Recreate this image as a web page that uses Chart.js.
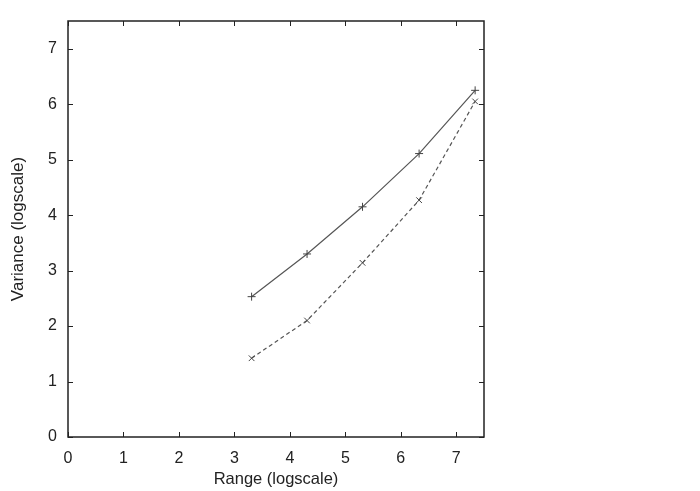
<!DOCTYPE html>
<html>
<head>
<meta charset="utf-8">
<script src="https://cdn.jsdelivr.net/npm/chart.js@4/dist/chart.umd.min.js"></script>
<style>
  html,body{margin:0;padding:0;background:#fff;}
  canvas{display:block;}
</style>
</head>
<body>
<canvas id="chart-variance" width="700" height="491"></canvas>
<script>
// values
const rangeLog=[3.31,4.31,5.31,6.33,7.34]
const varianceSolid=[2.53,3.30,4.15,5.11,6.25]
const varianceDashed=[1.42,2.10,3.14,4.27,6.05]
const xTicks=[0,1,2,3,4,5,6,7]
const yTicks=[0,1,2,3,4,5,6,7]

const fontFam="'Liberation Sans', Arial, Helvetica, sans-serif"
const ink='#222'

const toPoints=(xs,ys)=>xs.map((x,i)=>({x:x,y:ys[i]}))

// gnuplot style frame: box round the plot and ticks pointing inward on every side
const frameTicks={
  id:'frameTicks',
  afterDraw(chart){
    const ctx=chart.ctx
    const a=chart.chartArea
    const sx=chart.scales.x, sy=chart.scales.y
    const len=5
    ctx.save()
    ctx.strokeStyle=ink
    ctx.lineWidth=1.5
    ctx.strokeRect(a.left,a.top,a.right-a.left,a.bottom-a.top)
    ctx.lineWidth=1
    xTicks.forEach(v=>{
      const px=Math.round(sx.getPixelForValue(v))+0.5
      ctx.beginPath()
      ctx.moveTo(px,a.bottom);ctx.lineTo(px,a.bottom-len)
      ctx.moveTo(px,a.top);ctx.lineTo(px,a.top+len)
      ctx.stroke()
    })
    yTicks.forEach(v=>{
      const py=Math.round(sy.getPixelForValue(v))+0.5
      ctx.beginPath()
      ctx.moveTo(a.left,py);ctx.lineTo(a.left+len,py)
      ctx.moveTo(a.right,py);ctx.lineTo(a.right-len,py)
      ctx.stroke()
    })
    ctx.restore()
  }
}

const onlyListed=list=>scale=>{
  scale.ticks=list.map(v=>({value:v}))
}

new Chart(document.querySelector('#chart-variance'),{
  type:'scatter',
  data:{
    datasets:[{
      label:'solid',
      data:toPoints(rangeLog,varianceSolid),
      showLine:true,
      borderColor:'#555',
      borderWidth:1.2,
      pointStyle:'cross',
      pointRadius:4,
      pointBorderColor:'#444',
      pointBorderWidth:1,
      backgroundColor:'#444'
    },{
      label:'dashed',
      data:toPoints(rangeLog,varianceDashed),
      showLine:true,
      borderColor:'#555',
      borderWidth:1.2,
      borderDash:[4,3],
      pointStyle:'crossRot',
      pointRadius:4,
      pointBorderColor:'#444',
      pointBorderWidth:1,
      backgroundColor:'#444'
    }]
  },
  options:{
    responsive:false,
    animation:false,
    layout:{padding:{left:0,top:21,right:216,bottom:0}},
    plugins:{
      legend:{display:false},
      tooltip:{enabled:false},
      title:{display:false}
    },
    scales:{
      x:{
        type:'linear',
        min:0,max:7.5,
        afterBuildTicks:onlyListed(xTicks),
        afterFit(scale){scale.height=54},
        grid:{display:false,drawTicks:false},
        border:{display:false},
        ticks:{color:ink,padding:12,font:{family:fontFam,size:16}},
        title:{display:true,text:'Range (logscale)',color:ink,
          font:{family:fontFam,size:16.5},padding:{top:0,bottom:2}}
      },
      y:{
        type:'linear',
        min:0,max:7.5,
        afterBuildTicks:onlyListed(yTicks),
        afterFit(scale){scale.width=68},
        grid:{display:false,drawTicks:false},
        border:{display:false},
        ticks:{color:ink,padding:11,font:{family:fontFam,size:16}},
        title:{display:true,text:'Variance (logscale)',color:ink,
          font:{family:fontFam,size:17},padding:{top:8,bottom:0}}
      }
    }
  },
  plugins:[frameTicks]
})
</script>
</body>
</html>
